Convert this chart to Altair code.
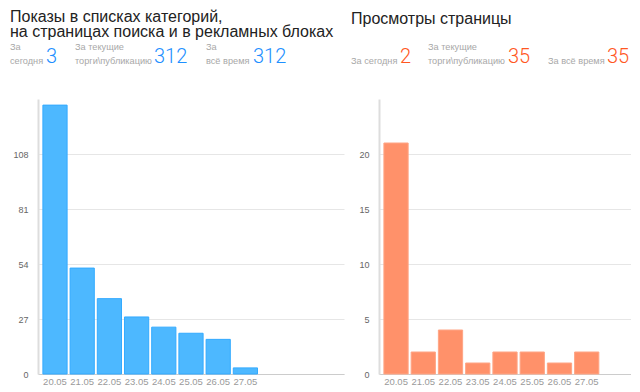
import altair as alt
import pandas as pd

dates = ["20.05", "21.05", "22.05", "23.05", "24.05", "25.05", "26.05", "27.05"]
impressions = [132, 52, 37, 28, 23, 20, 17, 3]
views = [21, 2, 4, 1, 2, 2, 1, 2]

left_title = ["Показы в списках категорий,", "на страницах поиска и в рекламных блоках"]
right_title = "Просмотры страницы"
left_stats = ["3", "312", "312"]
right_stats = ["2", "35", "35"]
left_ticks = [0, 27, 54, 81, 108]
right_ticks = [0, 5, 10, 15, 20]

FONT = "Liberation Sans"
BLUE_BAR = "#4db8ff"
BLUE_NUM = "#1e90ff"
ORANGE_BAR = "#ff916a"
ORANGE_NUM = "#ff5722"
GRAY = "#a8a8a8"


def txt(text, x, y, size, color, font=FONT, weight=400):
    return alt.Chart(alt.Data(values=[{"t": text}])).mark_text(
        align="left", baseline="alphabetic", fontSize=size, color=color, font=font,
        fontWeight=weight
    ).encode(text="t:N", x=alt.value(x), y=alt.value(y))


def num(text, x, color):
    return txt(text, x, -36, 20, color, font="Roboto", weight=300)


def panel(values, ticks, ymax, extra, width, fill, stroke, header):
    df = pd.DataFrame({"date": dates, "value": values})
    domain = dates + [" " * (i + 1) for i in range(extra)]
    bars = alt.Chart(df).mark_bar(fill=fill, stroke=stroke, strokeWidth=1).encode(
        x=alt.X("date:N", sort=domain,
                scale=alt.Scale(domain=domain, paddingInner=0.11, paddingOuter=0.18),
                axis=alt.Axis(title=None, labelAngle=0, ticks=False, domainColor="#cccccc",
                              labelColor="#9a9a9a", labelFontSize=9.5, labelPadding=2,
                              labelFont=FONT, grid=False)),
        y=alt.Y("value:Q", scale=alt.Scale(domain=[0, ymax], nice=False),
                axis=alt.Axis(title=None, values=ticks, ticks=False, domainColor="#dddddd",
                              domainWidth=2, gridColor="#e6e6e6", labelColor="#666666",
                              labelFontSize=9, labelPadding=10, labelFont=FONT)),
    )
    return alt.layer(bars, *header).properties(width=width, height=275)


left_header = [
    txt(left_title[0], -28, -77, 16, "#222222"),
    txt(left_title[1], -28, -62, 16, "#222222"),
    txt("За", -28, -49, 9.2, GRAY),
    txt("сегодня", -28, -35, 9.2, GRAY),
    num(left_stats[0], 8, BLUE_NUM),
    txt("За текущие", 37, -49, 9.2, GRAY),
    txt("торги\\публикацию", 37, -35, 9.2, GRAY),
    num(left_stats[1], 116, BLUE_NUM),
    txt("За", 168, -49, 9.2, GRAY),
    txt("всё время", 168, -35, 9.2, GRAY),
    num(left_stats[2], 215, BLUE_NUM),
]

right_header = [
    txt(right_title, -28, -75, 16, "#222222"),
    txt("За сегодня", -28, -35, 9.2, GRAY),
    num(right_stats[0], 21, ORANGE_NUM),
    txt("За текущие", 49, -49, 9.2, GRAY),
    txt("торги\\публикацию", 49, -35, 9.2, GRAY),
    num(right_stats[1], 129, ORANGE_NUM),
    txt("За всё время", 169, -35, 9.2, GRAY),
    num(right_stats[2], 228, ORANGE_NUM),
]

left = panel(impressions, left_ticks, 135, 3, 306, BLUE_BAR, "#33aaff", left_header)
right = panel(views, right_ticks, 25, 1, 252, ORANGE_BAR, "#ffa585", right_header)

chart = (
    alt.hconcat(left, right, spacing=7)
    .properties(padding={"left": 2, "top": 1, "right": 0, "bottom": 0})
    .configure(font=FONT)
    .configure_view(strokeWidth=0)
)

chart.save("out.html", embed_options={"renderer": "svg", "actions": False})
